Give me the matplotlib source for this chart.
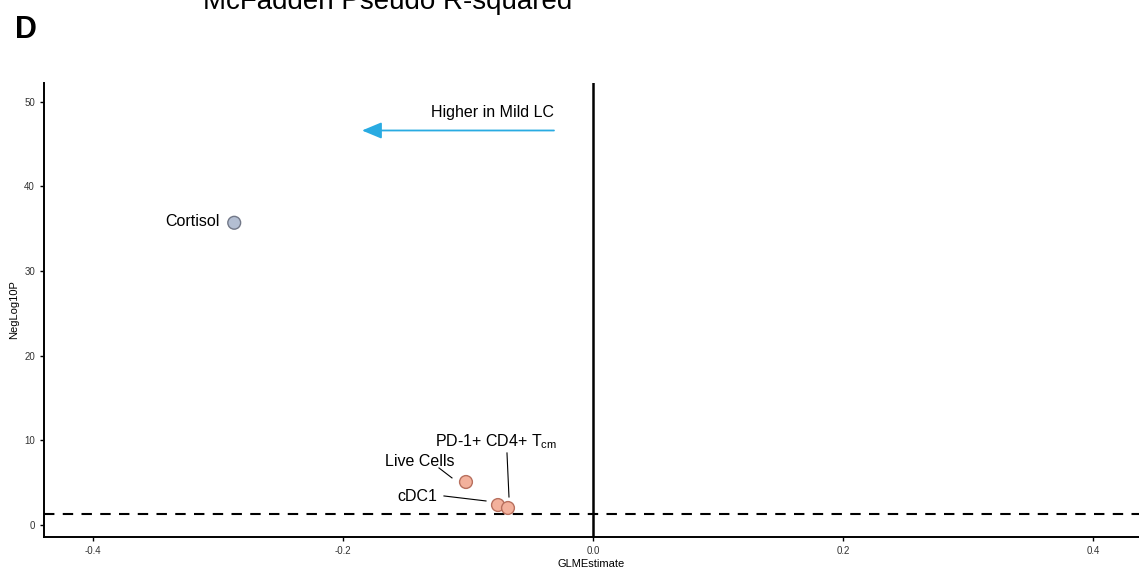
import matplotlib
matplotlib.use("agg")
import matplotlib.pyplot as plt

plt.rcParams["font.family"] = ["Liberation Sans", "DejaVu Sans"]

# data
names = ["Cortisol", "Live Cells", "cDC1", "PD-1+ CD4+ T$_{\\mathregular{cm}}$"]
estimate = [-0.287, -0.1016, -0.076, -0.068]
neglog10p = [35.7, 5.08, 2.36, 2.01]
colors = ["#b3bed2", "#f3b19c", "#f3b19c", "#f3b19c"]
edges = ["#727888", "#b8705e", "#b8705e", "#b8705e"]
label_pos = [(-0.299, 35.9), (-0.1384, 7.45), (-0.1408, 3.31), (-0.0776, 9.81)]
label_ha = ["right", "center", "center", "center"]
xticks = [-0.4, -0.2, 0.0, 0.2, 0.4]
yticks = [0, 10, 20, 30, 40, 50]
threshold = 1.301

fig = plt.figure(figsize=(11.39, 5.71), dpi=100)
ax = fig.add_axes([0.0386, 0.0595, 0.9614, 0.795])

ax.axhline(threshold, color="black", lw=1.5, ls=(0, (5, 4)), zorder=1)
ax.axvline(0, color="black", lw=1.8, zorder=1)

ax.scatter(estimate, neglog10p, s=85, c=colors, edgecolors=edges, linewidths=1.0, zorder=3)

# labels with leader lines
for i, name in enumerate(names):
    lx, ly = label_pos[i]
    ax.text(lx, ly, name, ha=label_ha[i], va="center", fontsize=11.5, zorder=4)

ax.plot([-0.1232, -0.1128], [6.74, 5.56], color="black", lw=0.8, zorder=2)
ax.plot([-0.1192, -0.0856], [3.43, 2.84], color="black", lw=0.8, zorder=2)
ax.plot([-0.0688, -0.0672], [8.51, 3.31], color="black", lw=0.8, zorder=2)

# direction arrow
ax.annotate("", xy=(-0.1848, 46.6), xytext=(-0.0312, 46.6),
            arrowprops=dict(arrowstyle="-|>,head_length=1.2,head_width=0.5",
                            color="#29abe2", lw=1.3, shrinkA=0, shrinkB=0))
ax.text(-0.0312, 48.7, "Higher in Mild LC", ha="right", va="center", fontsize=11.5)

ax.set_xlim(-0.4392, 0.4368)
ax.set_ylim(-1.42, 52.2)
ax.set_xticks(xticks)
ax.set_xticklabels(["-0.4", "-0.2", "0.0", "0.2", "0.4"])
ax.set_yticks(yticks)
ax.tick_params(labelsize=7, length=3, width=1, colors="black", labelcolor="#333333")
ax.set_xlabel("GLMEstimate", fontsize=8, labelpad=2)
ax.set_ylabel("NegLog10P", fontsize=8, labelpad=4)
for s in ["top", "right"]:
    ax.spines[s].set_visible(False)
for s in ["left", "bottom"]:
    ax.spines[s].set_linewidth(1.4)

fig.text(0.013, 0.948, "D", fontsize=22, fontweight="bold", ha="left", va="center")
fig.text(0.3406, 0.985, "McFadden Pseudo R-squared", fontsize=20, ha="center", va="baseline")

fig.savefig("out.png", dpi=100)
